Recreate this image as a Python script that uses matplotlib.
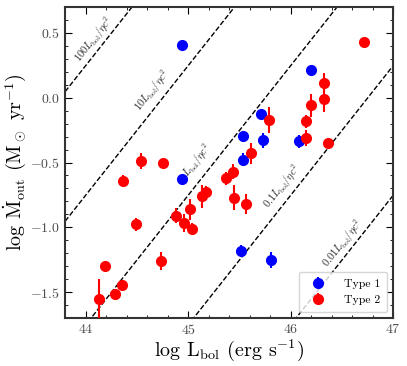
import numpy as np
import matplotlib
matplotlib.use("Agg")
import matplotlib.pyplot as plt
from matplotlib.ticker import MultipleLocator

plt.rcParams.update({
    "font.family": "serif",
    "font.serif": ["cmr10"],
    "mathtext.fontset": "cm",
    "axes.formatter.use_mathtext": True,
})

# Type 1 (blue)
t1_logL = [44.94, 44.94, 46.20, 45.71, 45.54, 45.73, 46.08, 45.54, 45.52, 45.81]
t1_logM = [0.41, -0.627, 0.21, -0.125, -0.295, -0.33, -0.335, -0.48, -1.18, -1.25]
t1_err = [0.0, 0.0, 0.03, 0.0, 0.0, 0.06, 0.05, 0.05, 0.04, 0.06]

# Type 2 (red)
t2_logL = [44.54, 44.75, 44.36, 44.49, 44.19, 44.35, 44.29, 44.13, 44.74, 44.88,
           44.96, 45.02, 45.04, 45.14, 45.17, 45.37, 45.44, 45.45, 45.61, 45.56,
           46.15, 46.36, 45.79, 46.72, 46.33, 46.33, 46.20, 46.15]
t2_logM = [-0.49, -0.50, -0.64, -0.975, -1.30, -1.445, -1.515, -1.55, -1.26, -0.91,
           -0.965, -0.86, -1.01, -0.76, -0.73, -0.62, -0.57, -0.77, -0.43, -0.82,
           -0.31, -0.35, -0.17, 0.43, 0.11, -0.01, -0.06, -0.18]
t2_err = [0.06, 0.03, 0.04, 0.05, 0.0, 0.0, 0.0, 0.15, 0.07, 0.06,
          0.07, 0.08, 0.04, 0.09, 0.05, 0.05, 0.06, 0.1, 0.08, 0.08,
          0.06, 0.0, 0.1, 0.03, 0.08, 0.1, 0.09, 0.05]

# Eddington-like lines: Mdot = f * L / (eta c^2), eta = 0.1
factors = [100, 10, 1, 0.1, 0.01]
line_labels = [r'$100L_{\rm bol}/\eta c^2$', r'$10L_{\rm bol}/\eta c^2$', r'$L_{\rm bol}/\eta c^2$',
               r'$0.1L_{\rm bol}/\eta c^2$', r'$0.01L_{\rm bol}/\eta c^2$']
label_x = [44.08, 44.65, 45.09, 45.92, 46.51]
label_dy = [0.12, 0.16, 0.18, 0.15, 0.12]

xlim = (43.8, 47.0)
ylim = (-1.7, 0.7)

fig = plt.figure(figsize=(4.07, 3.66), dpi=100)
ax = fig.add_axes([0.16, 0.131, 0.806, 0.85])

eta = 0.1
c = 2.998e10
msun_yr = 1.989e33 / 3.156e7
offset = np.log10(1.0 / (eta * c**2) / msun_yr)

xx = np.array(xlim)
for f in factors:
    ax.plot(xx, xx + np.log10(f) + offset, 'k--', lw=1.0, zorder=1)

ax.set_xlim(xlim)
ax.set_ylim(ylim)

# rotation angle of slope-1 lines in display space
bbox = ax.get_position()
W = fig.get_figwidth() * bbox.width
H = fig.get_figheight() * bbox.height
ang = np.degrees(np.arctan2(H / (ylim[1] - ylim[0]), W / (xlim[1] - xlim[0])))
for f, lab, lx, dy in zip(factors, line_labels, label_x, label_dy):
    ly = lx + np.log10(f) + offset + dy
    ax.text(lx, ly, lab, rotation=ang, fontsize=7.5, ha='center', va='center',
            rotation_mode='anchor', color='0.15')

ax.errorbar(t1_logL, t1_logM, yerr=t1_err, fmt='o', color='blue', ms=7,
            elinewidth=1.5, capsize=0, label='Type 1', zorder=3)
ax.errorbar(t2_logL, t2_logM, yerr=t2_err, fmt='o', color='red', ms=7,
            elinewidth=1.5, capsize=0, label='Type 2', zorder=3)

ax.set_xticks([44, 45, 46, 47])
ax.set_yticks([-1.5, -1.0, -0.5, 0.0, 0.5])
ax.xaxis.set_minor_locator(MultipleLocator(0.2))
ax.yaxis.set_minor_locator(MultipleLocator(0.1))
ax.tick_params(which='both', direction='in', top=True, right=True, labelsize=10,
               labelcolor='0.3')
ax.tick_params(which='major', length=5)
ax.tick_params(which='minor', length=2.5)
for s in ax.spines.values():
    s.set_linewidth(1.5)
    s.set_color('0.2')

ax.set_xlabel(r'log L$_{\rm bol}$ (erg s$^{-1}$)', fontsize=14.5, labelpad=0)
ax.set_ylabel(r'log $\dot{\rm M}_{\rm out}$ (M$_\odot$ yr$^{-1}$)', fontsize=14.5, labelpad=2)

ax.legend(loc='lower right', fontsize=8.5, handletextpad=1.2, borderpad=0.6)

fig.savefig('out.png', dpi=100)
